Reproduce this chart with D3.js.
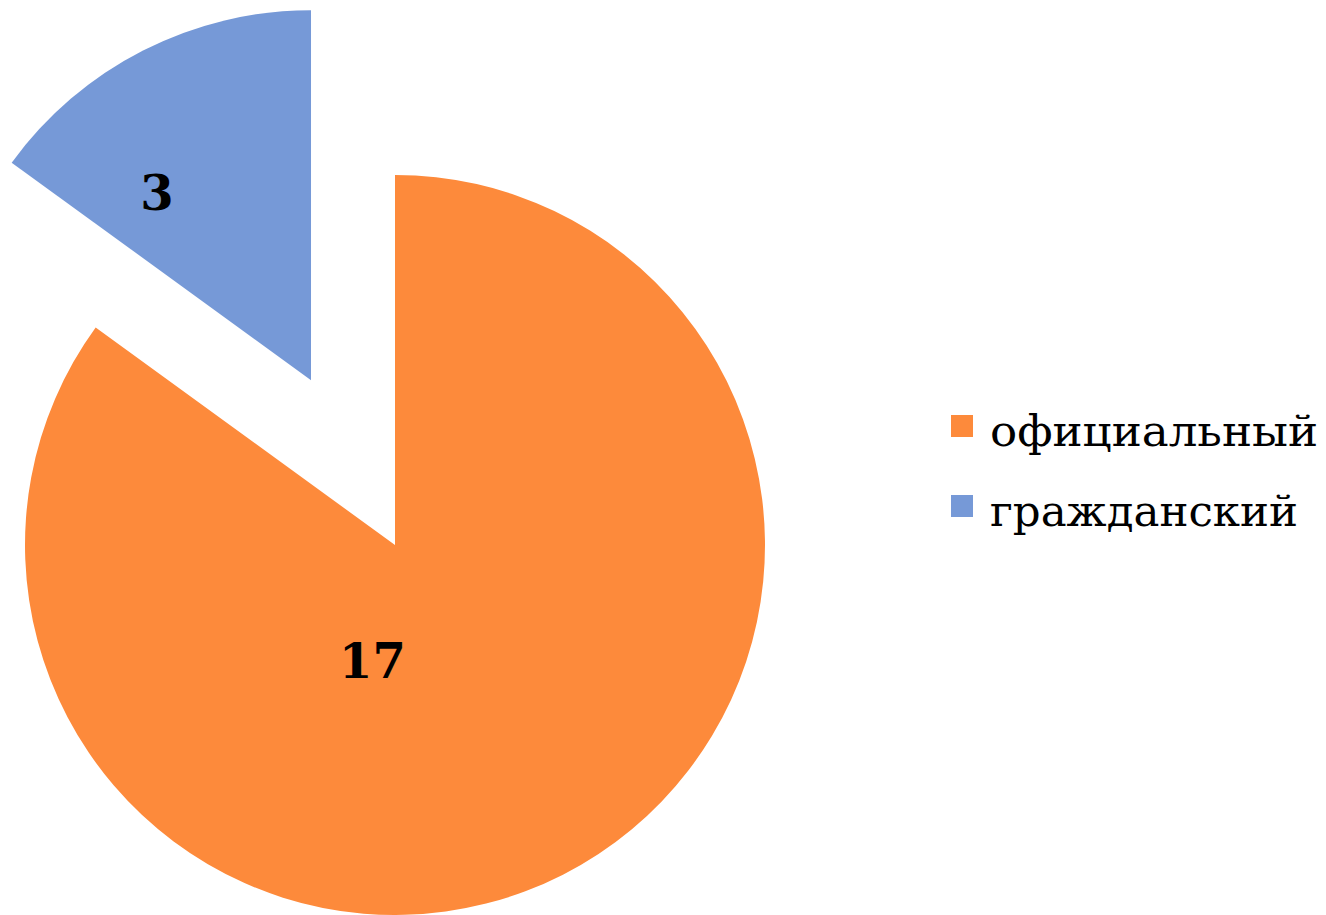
<!DOCTYPE html>
<html>
<head>
<meta charset="utf-8">
<script src="https://cdn.jsdelivr.net/npm/d3@7"></script>
<style>
  body { margin: 0; background: #fff; }
  #chart { width: 1326px; height: 915px; }
</style>
</head>
<body>
<div id="chart"></div>
<script>
const categories = ['официальный', 'гражданский'];
const values = [17, 3];
const colors = ['#FD8A3B', '#7699D7'];

const width = 1326, height = 915;
const cx = 395, cy = 545, r = 370;
// exploded slice offset, and where Excel put the labels (angle in deg, fraction of r)
const explode = [0, 0.5];
const labelPos = [[191, 0.32], [-39.5, 0.655]];
const legendWidths = [328, 308];

const svg = d3.select('#chart').append('svg')
    .attr('width', width)
    .attr('height', height)
    .attr('viewBox', [0, 0, width, height]);

// official goes clockwise from 12 o'clock, civil sits just before it
const total = d3.sum(values);
const pie = d3.pie().sort(null);
const arcs = pie(values);
arcs[0].startAngle = 0;
arcs[0].endAngle = 2 * Math.PI * values[0] / total;
arcs[1].startAngle = -2 * Math.PI * values[1] / total;
arcs[1].endAngle = 0;

const arc = d3.arc().innerRadius(0).outerRadius(r);

const g = svg.append('g').attr('transform', `translate(${cx},${cy})`);

const slices = g.selectAll('g.slice')
    .data(arcs)
    .join('g')
    .attr('class', 'slice')
    .attr('transform', (d, i) => {
        const mid = (d.startAngle + d.endAngle) / 2;
        const off = explode[i] * r;
        return `translate(${off * Math.sin(mid)},${-off * Math.cos(mid)})`;
    });

slices.append('path')
    .attr('d', arc)
    .attr('fill', (d, i) => colors[i]);

slices.append('text')
    .attr('transform', (d, i) => {
        const a = labelPos[i][0] * Math.PI / 180;
        const lr = labelPos[i][1] * r;
        return `translate(${lr * Math.sin(a)},${-lr * Math.cos(a)})`;
    })
    .attr('text-anchor', 'middle')
    .attr('dy', '0.35em')
    .attr('font-family', '"DejaVu Serif", serif')
    .attr('font-weight', 'bold')
    .attr('font-size', 48)
    .attr('fill', '#000')
    .text((d, i) => values[i]);

// legend
const legend = svg.append('g').attr('transform', 'translate(951,415)');
const item = legend.selectAll('g')
    .data(categories)
    .join('g')
    .attr('transform', (d, i) => `translate(0,${i * 80})`);

item.append('rect')
    .attr('width', 22)
    .attr('height', 22)
    .attr('fill', (d, i) => colors[i]);

item.append('text')
    .attr('x', 39)
    .attr('y', 31)
    .attr('font-family', '"DejaVu Serif", serif')
    .attr('font-size', 42)
    .attr('textLength', (d, i) => legendWidths[i])
    .attr('lengthAdjust', 'spacingAndGlyphs')
    .attr('fill', '#000')
    .text(d => d);
</script>
</body>
</html>
